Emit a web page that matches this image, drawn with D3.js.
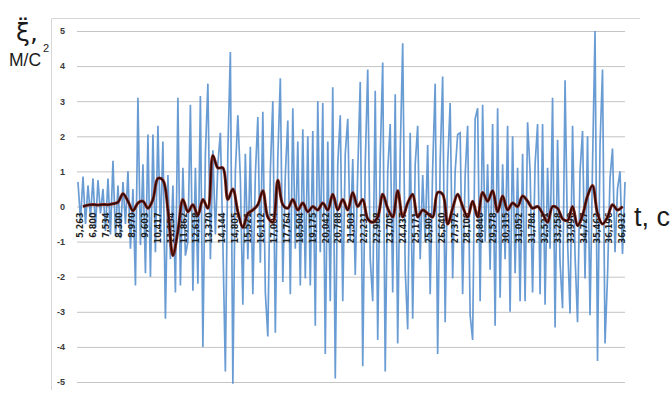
<!DOCTYPE html>
<html>
<head>
<meta charset="utf-8">
<script src="https://cdn.jsdelivr.net/npm/d3@7"></script>
<style>
    body { margin: 0; background: #fff; }
    text { font-family: "Liberation Sans", Arial, sans-serif; }
</style>
</head>
<body>
<div id="chart"></div>
<script>
// y ticks, m/s^2
var yTicks = [-5, -4, -3, -2, -1, 0, 1, 2, 3, 4, 5];

// time labels on the category axis, s
var timeLabels = ["5,263", "6,800", "7,534", "8,300", "8,970", "9,603", "10,417", "11,154", "11,862",
    "12,618", "13,370", "14,144", "14,805", "15,521", "16,112", "17,004", "17,764", "18,504", "19,175",
    "20,042", "20,788", "21,503", "22,231", "22,968", "23,705", "24,437", "25,171", "25,903", "26,640",
    "27,372", "28,109", "28,846", "29,578", "30,315", "31,052", "31,784", "32,521", "33,258", "33,990",
    "34,727", "35,463", "36,196", "36,932"];

// measured acceleration
var accel = [0.7, -0.4, 0.85, -0.5, 0.6, -0.3, 0.8, -0.6, 0.75, -0.2,
    0.5, -0.7, 0.8, -0.8, 1.3, -0.85, 0.6, -0.9, 0.7, -0.5,
    1.0, -1.2, 0.5, -2.25, 3.1, -1.1, 1.2, -1.9, 2.05, -2.0,
    2.05, -1.3, 2.3, -0.8, 1.85, -3.2, 0.9, -1.5, 0.6, -2.45,
    3.1, -2.25, 1.1, -1.4, -1.0, 2.9, -2.4, 1.1, -2.2, 3.15,
    -4.0, 1.5, 3.5, -1.5, 1.6, -0.8, 1.2, 2.1, -1.0, -4.7,
    1.6, 4.4, -5.05, 1.0, 2.6, 0.8, -2.8, 1.5, -1.5, 1.7,
    -2.5, 0.9, 2.55, -1.6, 2.7, -2.45, -3.7, 1.0, 3.0, -3.6,
    1.4, 3.65, -2.15, 0.9, 2.45, -2.5, 2.8, -1.2, 1.85, -2.25,
    2.2, -2.05, 2.0, -2.25, 2.15, -3.4, 3.0, -1.3, 2.95, -4.2,
    1.85, -2.7, 3.4, -4.9, 1.2, 2.6, -2.7, 1.5, 2.5, -1.0,
    1.35, -1.95, 1.0, 3.55, -4.55, 1.2, 3.9, -1.5, -2.7, 3.3,
    -3.8, 1.4, 4.1, -4.7, 1.0, 2.35, -2.45, 3.2, -3.9, 1.5,
    4.65, -1.8, -3.5, 2.1, -3.2, 1.2, 2.3, -1.5, 0.9, -1.0,
    1.75, -2.5, 1.1, 3.5, -4.2, 1.3, 3.7, -3.3, 1.2, 2.95,
    -2.05, 1.0, 2.05, 2.1, -2.5, 0.9, 2.3, -3.1, -3.8, 2.5,
    2.8, -2.7, 2.9, -1.0, 1.2, -1.8, 2.35, -3.4, 2.8, -2.6,
    1.2, -1.5, 2.3, -3.0, 2.0, -1.9, 1.1, -2.7, 1.5, -2.7,
    2.4, 1.0, -2.45, 1.2, 2.35, -2.5, 2.35, -2.8, 1.1, -1.2,
    3.1, -3.45, 1.9, -1.6, -2.9, 3.6, -1.0, -3.05, 2.3, -1.4,
    -3.3, 1.0, 2.15, -2.05, 2.0, -3.1, 1.2, 5.0, -4.4, 1.75,
    3.9, -3.9, -2.0, 0.8, 1.65, -1.3, 0.5, 1.0, -1.35, 0.7];

// smoothed curve, one value per two samples starting at sample 2
var smooth = [0.0, 0.04, 0.06, 0.04, 0.06, 0.05, 0.08, 0.12, 0.36, 0.15,
    -0.12, 0.1, 0.15, -0.05, 0.2, 0.8, 0.75, -0.1, -1.4, -0.7,
    0.2, -0.15, 0.05, -0.25, 0.2, -0.05, 1.45, 1.1, 1.1, 0.2,
    0.5, -0.15, -0.6, -0.2, -0.1, 0.05, 0.45, -0.3, -0.45, 0.75,
    0.05, -0.05, 0.2, -0.1, 0.1, -0.15, 0.0, -0.1, 0.1, -0.1,
    0.35, -0.1, 0.2, -0.1, 0.4, 0.0, 0.2, -0.35, -0.45, -0.3,
    0.35, -0.05, -0.3, 0.45, -0.3, 0.1, 0.35, -0.3, -0.1, -0.2,
    -0.3, 0.4, 0.35, -0.5, -0.05, 0.35, 0.0, -0.3, 0.15, -0.3,
    0.4, 0.15, 0.45, -0.15, 0.3, -0.1, 0.1, 0.0, 0.3, 0.15,
    -0.05, 0.0, -0.2, -0.45, 0.0, -0.05, -0.35, -0.4, 0.0, -0.55,
    -0.25, 0.3, 0.6, -0.2, -0.5, -0.3, 0.05, -0.1, 0.0];

var W = 671, H = 395;
var left = 77, right = 625;

var svg = d3.select("#chart")
    .append("svg")
    .attr("width", W)
    .attr("height", H);

// frame
svg.append("path")
    .attr("d", "M51.5,390V18.5H640")
    .attr("fill", "none")
    .attr("stroke", "#d6d6d6");

var y = d3.scaleLinear()
    .domain([-5, 5])
    .range([382, 31]);

var x = d3.scaleLinear()
    .domain([0, accel.length - 1])
    .range([left + 1, right]);

var xLab = d3.scalePoint()
    .domain(timeLabels)
    .range([80, 622]);

// y axis + gridlines
var yAxis = svg.append("g")
    .attr("transform", "translate(" + left + ",0)")
    .call(d3.axisLeft(y)
        .tickValues(yTicks)
        .tickSize(-(right - left))
        .tickPadding(12)
        .tickFormat(d => String(d)));
yAxis.select(".domain").remove();
yAxis.selectAll("line")
    .attr("stroke", "#c4c4c4");
yAxis.selectAll("text")
    .attr("fill", "#3a3a3a")
    .style("font-size", "9px")
    .style("font-weight", "bold");

// raw signal
svg.append("path")
    .datum(accel)
    .attr("fill", "none")
    .attr("stroke", "#5a91cf")
    .attr("stroke-width", 1.7)
    .attr("stroke-opacity", 0.9)
    .attr("d", d3.line()
        .x((d, i) => x(i))
        .y(d => y(d)));

// time labels along zero line
var xAxis = svg.append("g")
    .attr("transform", "translate(0," + y(0) + ")")
    .call(d3.axisBottom(xLab).tickSize(0));
xAxis.select(".domain").remove();
xAxis.selectAll("text")
    .attr("transform", "rotate(-90)")
    .attr("x", -6)
    .attr("y", 0)
    .attr("dy", "0.35em")
    .attr("fill", "#1e1e1e")
    .style("text-anchor", "end")
    .style("font-family", "'DejaVu Sans', sans-serif")
    .style("font-size", "8px")
    .style("font-weight", "bold");

// smoothed curve
var smoothLine = d3.line()
    .x((d, j) => x(2 + 2 * j))
    .y(d => y(d))
    .curve(d3.curveCatmullRom.alpha(0.5));

svg.append("path")
    .datum(smooth)
    .attr("fill", "none")
    .attr("stroke", "#8a2a1c")
    .attr("stroke-width", 3)
    .attr("d", smoothLine);
svg.append("path")
    .datum(smooth)
    .attr("fill", "none")
    .attr("stroke", "#2a0906")
    .attr("stroke-width", 1.5)
    .attr("d", smoothLine);

// axis titles
var yTitle = svg.append("g").attr("fill", "#1a1a1a");
yTitle.append("text")
    .attr("x", 16)
    .attr("y", 41)
    .style("font-family", "'DejaVu Sans', sans-serif")
    .style("font-size", "25px")
    .text("ξ\u0308,");
yTitle.append("text")
    .attr("x", 9)
    .attr("y", 66)
    .style("font-size", "17.5px")
    .text("М/С");
yTitle.append("text")
    .attr("x", 43)
    .attr("y", 52)
    .style("font-size", "11px")
    .text("2");

svg.append("text")
    .attr("x", 634)
    .attr("y", 226)
    .attr("fill", "#1a1a1a")
    .style("font-size", "27px")
    .text("t, с");
</script>
</body>
</html>
